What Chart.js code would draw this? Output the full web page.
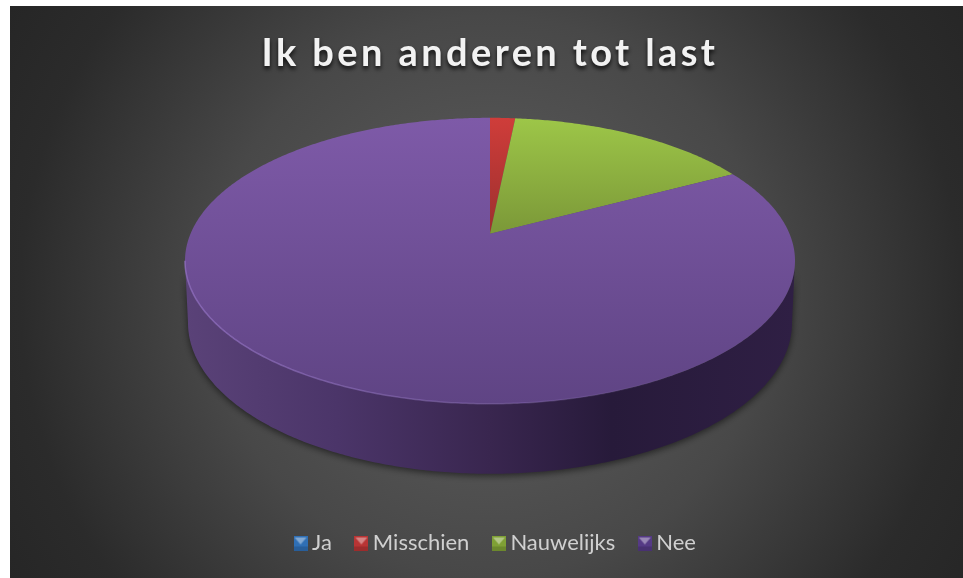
<!DOCTYPE html>
<html>
<head>
<meta charset="utf-8">
<style>
  html, body { margin: 0; background: #fff; overflow: hidden; }
  #chart { position: absolute; left: 10px; top: 6px; }
</style>
</head>
<body>
<canvas id="chart" width="953" height="572"></canvas>
<script src="https://cdn.jsdelivr.net/npm/chart.js@4"></script>
<script>
const categories = ["Ja", "Misschien", "Nauwelijks", "Nee"];
const answers = [0, 1.6, 15.6, 82.8];
const titleText = "Ik ben anderen tot last";

// top colour / bottom colour of each slice
const topColors = ["#4f81bd", "#cf3d3a", "#9dc648", "#7e5aa8"];
const bottomColors = ["#3a6595", "#9c2f2e", "#7b9838", "#5f4484"];
const swatchColors = ["#2f6fb5", "#b83434", "#7fa035", "#553a85"];

// the tilted disc: top ellipse, foot of the wall, and how far the apex sits behind the middle
const TILT = 27 / 143;
const TOP_FACE = { rx: 305, ry: 143, dy: -39 };
const FOOT = { rx: 302, ry: 151, dy: 23 };

function project(arc, face, angle) {
  const u = Math.cos(angle);
  const v = -Math.sin(angle);
  const w = 1 + TILT * v;
  return {
    x: arc.x + (face.rx * Math.sqrt(1 - TILT * TILT) * u) / w,
    y: arc.y + face.dy + (face.ry * (-v - TILT)) / w,
  };
}

function sweep(start, end) {
  const angles = [];
  const steps = Math.max(2, Math.ceil((end - start) / 0.01));
  for (let i = 0; i <= steps; i++) angles.push(start + ((end - start) * i) / steps);
  return angles;
}

// the part of an arc that faces the viewer
function frontPart(arc) {
  const from = Math.asin(TILT);
  const to = Math.PI - from;
  const start = Math.max(arc.startAngle, from);
  const end = Math.min(arc.endAngle, to);
  return start < end ? [start, end] : null;
}

function drawWall(ctx, arc) {
  const part = frontPart(arc);
  if (!part) return;
  const angles = sweep(part[0], part[1]);
  ctx.beginPath();
  angles.forEach((a, i) => {
    const p = project(arc, TOP_FACE, a);
    i ? ctx.lineTo(p.x, p.y) : ctx.moveTo(p.x, p.y);
  });
  angles.reverse().forEach((a) => {
    const p = project(arc, FOOT, a);
    ctx.lineTo(p.x, p.y);
  });
  ctx.closePath();
  const g = ctx.createLinearGradient(arc.x - TOP_FACE.rx, 0, arc.x + TOP_FACE.rx, 0);
  g.addColorStop(0, "#5a4278");
  g.addColorStop(0.25, "#4b3569");
  g.addColorStop(0.5, "#39264f");
  g.addColorStop(0.7, "#271a3a");
  g.addColorStop(1, "#2f1f44");
  ctx.save();
  ctx.shadowColor = "rgba(0,0,0,0.55)";
  ctx.shadowBlur = 7;
  ctx.shadowOffsetY = 2;
  ctx.fillStyle = g;
  ctx.fill();
  ctx.restore();
}

function drawFace(ctx, arc, i) {
  const angles = sweep(arc.startAngle, arc.endAngle);
  const points = angles.map((a) => project(arc, TOP_FACE, a));
  const apex = { x: arc.x, y: arc.y + TOP_FACE.dy - TOP_FACE.ry * TILT };
  const ys = points.map((p) => p.y).concat(apex.y);
  const g = ctx.createLinearGradient(0, Math.min(...ys), 0, Math.max(...ys));
  g.addColorStop(0, topColors[i]);
  g.addColorStop(1, bottomColors[i]);
  ctx.beginPath();
  ctx.moveTo(apex.x, apex.y);
  points.forEach((p) => ctx.lineTo(p.x, p.y));
  ctx.closePath();
  ctx.fillStyle = g;
  ctx.fill();
}

function drawRim(ctx, arc) {
  const part = frontPart(arc);
  if (!part) return;
  const g = ctx.createLinearGradient(arc.x - TOP_FACE.rx, 0, arc.x + TOP_FACE.rx, 0);
  g.addColorStop(0, "rgba(150,115,200,0.7)");
  g.addColorStop(0.5, "rgba(150,120,200,0.35)");
  g.addColorStop(0.85, "rgba(150,120,200,0)");
  ctx.beginPath();
  sweep(part[0], part[1]).forEach((a, i) => {
    const p = project(arc, TOP_FACE, a);
    i ? ctx.lineTo(p.x, p.y) : ctx.moveTo(p.x, p.y);
  });
  ctx.strokeStyle = g;
  ctx.lineWidth = 1.5;
  ctx.stroke();
}

const tiltedPie = {
  id: "tiltedPie",
  beforeDraw(chart) {
    const { ctx, width, height } = chart;
    const g = ctx.createRadialGradient(480, 290, 0, 480, 290, 560);
    g.addColorStop(0, "#606060");
    g.addColorStop(0.5, "#484848");
    g.addColorStop(0.84, "#2b2b2b");
    g.addColorStop(1, "#262626");
    ctx.fillStyle = g;
    ctx.fillRect(0, 0, width, height);
    if (!chart.titleBlock.patched) {
      chart.titleBlock.patched = true;
      // only the title gets the spaced-out letters and the shadow
      const drawTitle = chart.titleBlock.draw;
      chart.titleBlock.draw = function () {
        ctx.save();
        ctx.letterSpacing = "3.4px";
        ctx.shadowColor = "rgba(0,0,0,0.8)";
        ctx.shadowBlur = 4;
        ctx.shadowOffsetY = 3;
        drawTitle.call(this);
        ctx.restore();
      };
      // legend sits a little right of the middle
      const drawLegend = chart.legend.draw;
      chart.legend.draw = function () {
        ctx.save();
        ctx.translate(8, 0);
        drawLegend.call(this);
        ctx.restore();
      };
    }
  },
  beforeDatasetDraw(chart, args) {
    const ctx = chart.ctx;
    const arcs = args.meta.data;
    arcs.forEach((arc, i) => { if (answers[i] > 0) drawWall(ctx, arc); });
    arcs.forEach((arc, i) => { if (answers[i] > 0) drawFace(ctx, arc, i); });
    arcs.forEach((arc, i) => { if (answers[i] > 0) drawRim(ctx, arc); });
    return false;
  },
};

function swatch(i) {
  const c = document.createElement("canvas");
  c.width = 14;
  c.height = 15;
  const x = c.getContext("2d");
  x.fillStyle = swatchColors[i];
  x.fillRect(0, 0, 14, 15);
  x.fillStyle = "rgba(255,255,255,0.4)";
  x.beginPath();
  x.moveTo(1, 2);
  x.lineTo(13, 2);
  x.lineTo(7, 9);
  x.closePath();
  x.fill();
  x.fillStyle = "rgba(0,0,0,0.15)";
  x.fillRect(0, 11, 14, 4);
  return c;
}
const swatches = categories.map((_, i) => swatch(i));

new Chart(document.getElementById("chart"), {
  type: "pie",
  data: {
    labels: categories,
    datasets: [{ data: answers, backgroundColor: topColors, borderWidth: 0 }],
  },
  options: {
    responsive: false,
    animation: false,
    layout: { padding: { left: 7, bottom: 14 } },
    plugins: {
      tooltip: { enabled: false },
      title: {
        display: true,
        text: titleText,
        color: "#f2f2f2",
        font: { family: "Lato", size: 38, weight: "bold" },
        padding: { top: 25, bottom: 20 },
      },
      legend: {
        position: "bottom",
        labels: {
          color: "#d0d0d0",
          font: { family: "Lato", size: 22 },
          usePointStyle: true,
          pointStyleWidth: 1,
          padding: 29,
          generateLabels(chart) {
            const base = Chart.overrides.pie.plugins.legend.labels.generateLabels(chart);
            return base.map((item, i) => ({ ...item, pointStyle: swatches[i], hidden: false }));
          },
        },
      },
    },
  },
  plugins: [tiltedPie],
});
</script>
</body>
</html>
